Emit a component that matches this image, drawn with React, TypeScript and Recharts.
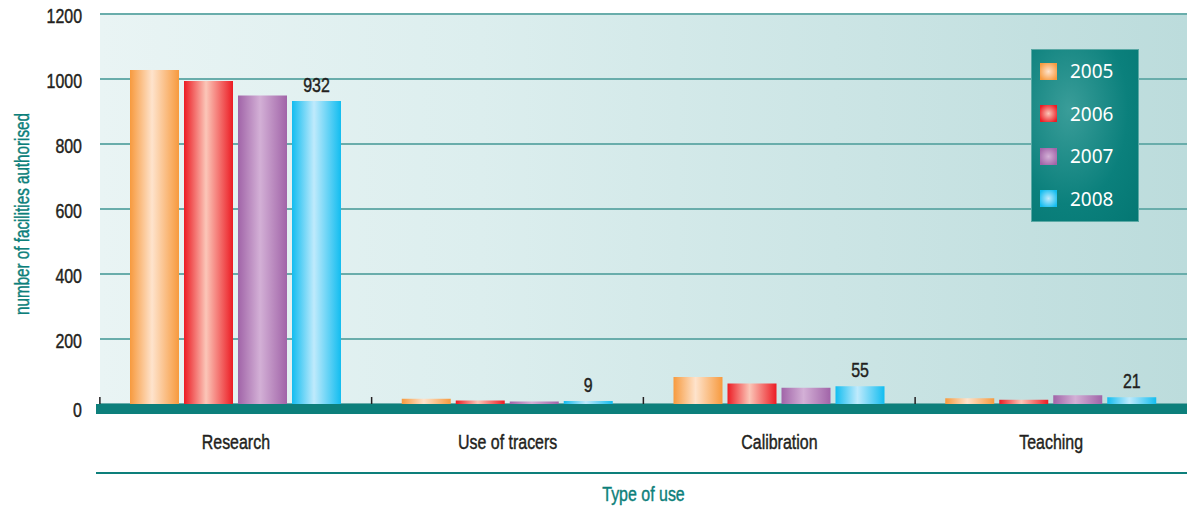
import { BarChart, Bar, XAxis, YAxis, CartesianGrid, LabelList } from 'recharts'

const categories = ['Research', 'Use of tracers', 'Calibration', 'Teaching']
const years = ['2005', '2006', '2007', '2008']
const y2005 = [1028, 16, 83, 18]
const y2006 = [994, 11, 63, 13]
const y2007 = [949, 8, 50, 27]
const y2008 = [932, 9, 55, 21]
const yTicks = [0, 200, 400, 600, 800, 1000, 1200]

const colors = ['#f79a3e', '#ec1c24', '#a164a8', '#12bdf0']
const lights = ['#fee3cc', '#fbc6b8', '#d3b0d6', '#bfeafc']

const data = categories.map((c, i) => ({
  name: c,
  y2005: y2005[i],
  y2006: y2006[i],
  y2007: y2007[i],
  y2008: y2008[i],
}))

const FONT = '"Liberation Sans", Arial, sans-serif'
const TEAL = '#0d7f7b'
const SQUEEZE = 0.76

// condensed-looking text: horizontal squeeze around the anchor point
const Narrow = ({ x, y, anchor = 'middle', size = 19, fill = '#231f20', rotate = 0, children }: any) => (
  <text transform={`translate(${x},${y}) rotate(${rotate}) scale(${SQUEEZE},1)`} textAnchor={anchor}
    fontFamily={FONT} fontSize={size} fill={fill} stroke={fill} strokeWidth={0.45}>
    {children}
  </text>
)

const YTick = ({ x, y, payload }: any) => (
  <Narrow x={x} y={y + (payload.value === 0 ? 13 : 9)} anchor="end" size={21}>{payload.value}</Narrow>
)

const XTick = ({ x, y, payload }: any) => (
  <g>
    <line x1={x - 136} x2={x - 136} y1={y - 7} y2={y} stroke="#231f20" strokeWidth={1.5} />
    <Narrow x={x} y={y + 45} size={21}>{payload.value}</Narrow>
  </g>
)

const XLabel = ({ viewBox }: any) => {
  const { x, y, width } = viewBox
  return (
    <g>
      <rect x={x - 4} y={y} width={width + 4} height={10} fill={TEAL} />
      <line x1={x - 4} x2={x + width} y1={y + 69} y2={y + 69} stroke={TEAL} strokeWidth={2} />
      <Narrow x={x + width / 2} y={y + 97} size={21} fill={TEAL}>Type of use</Narrow>
    </g>
  )
}

const YLabel = ({ viewBox }: any) => (
  <Narrow x={29} y={viewBox.y + viewBox.height / 2 + 5} rotate={-90} size={20} fill={TEAL}>
    number of facilities authorised
  </Narrow>
)

const ValueLabel = ({ x, y, width, value }: any) => (
  <Narrow x={x + width / 2} y={y - 9} size={21}>{value}</Narrow>
)

const LegendBox = () => (
  <div style={{
    position: 'absolute', left: 1031, top: 49,
    width: 108, height: 173, boxSizing: 'border-box', padding: '0 0 0 8px',
    background: 'radial-gradient(ellipse at 35% 35%, #3a9d99 0%, #0b807c 60%, #047773 100%)',
    border: '1px solid #5ba9a5',
  }}>
    {years.map((yr, i) => (
      <div key={yr} style={{ display: 'flex', alignItems: 'center', height: 42.5 }}>
        <span style={{
          width: 17, height: 17, display: 'inline-block',
          background: `radial-gradient(circle, ${lights[i]} 0%, ${colors[i]} 85%)`,
        }} />
        <span style={{ marginLeft: 13, color: '#fff', fontFamily: '"Noto Sans", sans-serif', fontSize: 19 }}>{yr}</span>
      </div>
    ))}
  </div>
)

export default function App() {
  return (
    <div style={{ position: 'absolute', left: 0, top: 0, width: 1187, height: 512, background: '#fff' }}>
      <BarChart width={1187} height={512} data={data}
        margin={{ top: 14, right: 0, bottom: 0, left: 0 }}
        barCategoryGap={30} barGap={5}>
        <defs>
          <linearGradient id="bg" x1="0" y1="0" x2="1" y2="0">
            <stop offset="0" stopColor="#e9f4f4" />
            <stop offset="0.35" stopColor="#dceeee" />
            <stop offset="1" stopColor="#bcdcdc" />
          </linearGradient>
          {colors.map((c, i) => (
            <linearGradient key={c} id={`g${i}`} x1="0" y1="0" x2="1" y2="0">
              <stop offset="0" stopColor={c} />
              <stop offset="0.45" stopColor={lights[i]} />
              <stop offset="1" stopColor={c} />
            </linearGradient>
          ))}
        </defs>
        <CartesianGrid vertical={false} fill="url(#bg)" stroke="#69adab" strokeWidth={2} />
        <XAxis dataKey="name" axisLine={false} tickLine={false} tickSize={0} tickMargin={0}
          height={108} tick={<XTick />} interval={0} label={<XLabel />} />
        <YAxis domain={[0, 1200]} ticks={yTicks} axisLine={false} tickLine={false}
          tickSize={0} tickMargin={18} width={100} tick={<YTick />} label={<YLabel />} interval={0} />
        <Bar dataKey="y2005" name="2005" fill="url(#g0)" barSize={49} isAnimationActive={false} />
        <Bar dataKey="y2006" name="2006" fill="url(#g1)" barSize={49} isAnimationActive={false} />
        <Bar dataKey="y2007" name="2007" fill="url(#g2)" barSize={49} isAnimationActive={false} />
        <Bar dataKey="y2008" name="2008" fill="url(#g3)" barSize={49} isAnimationActive={false}>
          <LabelList dataKey="y2008" content={<ValueLabel />} />
        </Bar>
      </BarChart>
      <LegendBox />
    </div>
  )
}
